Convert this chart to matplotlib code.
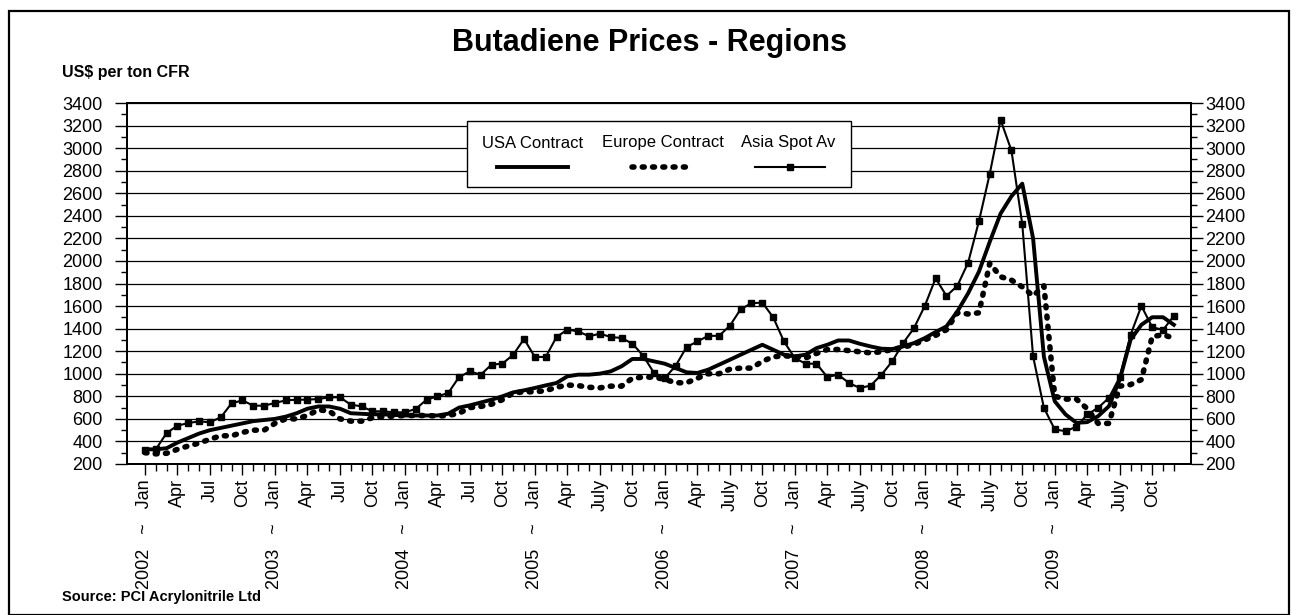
import numpy as np
import matplotlib.pyplot as plt
from matplotlib.lines import Line2D
from matplotlib.patches import Rectangle
from matplotlib.ticker import MultipleLocator

# monthly prices, Jan 2002 .. Dec 2009 (US$/t CFR)
usa = [330, 330, 340, 390, 430, 470, 500, 520, 540, 560, 580, 590,
       600, 620, 650, 690, 710, 710, 690, 650, 645, 640, 640, 635,
       630, 630, 630, 630, 646, 700, 720, 745, 770, 800, 835, 853,
       874, 897, 918, 977, 992, 992, 1001, 1021, 1066, 1131, 1131, 1110,
       1089, 1051, 1013, 1007, 1036, 1080, 1124, 1169, 1213, 1257, 1213, 1169,
       1154, 1169, 1227, 1257, 1295, 1295, 1266, 1242, 1222, 1219, 1242, 1272,
       1316, 1370, 1420, 1551, 1713, 1905, 2170, 2420, 2573, 2685, 2200, 1150,
       756, 639, 565, 571, 624, 712, 948, 1301, 1434, 1501, 1501, 1434]
europe = [300, 290, 295, 330, 360, 385, 420, 450, 450, 480, 500, 500,
          560, 600, 600, 630, 680, 670, 600, 580, 580, 610, 620, 625,
          630, 630, 630, 625, 630, 650, 700, 710, 730, 770, 830, 840,
          840, 850, 880, 900, 895, 880, 875, 890, 890, 960, 970, 970,
          950, 920, 920, 960, 1000, 1000, 1040, 1050, 1050, 1110, 1150, 1160,
          1150, 1140, 1180, 1215, 1215, 1205, 1195, 1185, 1195, 1215, 1235, 1260,
          1300, 1340, 1390, 1540, 1530, 1540, 1980, 1860, 1830, 1770, 1690, 1780,
          800, 775, 775, 690, 560, 560, 890, 904, 948, 1330, 1345, 1316]
asia = [320, 330, 475, 540, 563, 578, 570, 614, 738, 764, 717, 717,
        741, 764, 770, 770, 776, 791, 791, 726, 711, 667, 667, 658,
        658, 688, 770, 800, 829, 971, 1021, 992, 1081, 1089, 1169, 1308,
        1149, 1149, 1326, 1391, 1376, 1332, 1355, 1326, 1317, 1267, 1160, 1007,
        962, 1071, 1236, 1286, 1336, 1336, 1425, 1572, 1625, 1631, 1501, 1286,
        1139, 1089, 1089, 971, 992, 918, 874, 895, 992, 1110, 1272, 1404,
        1601, 1846, 1690, 1778, 1984, 2352, 2773, 3250, 2979, 2326, 1154, 698,
        506, 491, 530, 639, 698, 786, 971, 1345, 1601, 1413, 1389, 1513]

tick_labels = ['2002   ~   Jan', 'Apr', 'Jul', 'Oct',
               '2003   ~   Jan', 'Apr', 'Jul', 'Oct',
               '2004   ~   Jan', 'Apr', 'Jul', 'Oct',
               '2005   ~   Jan', 'Apr', 'July', 'Oct',
               '2006   ~   Jan', 'Apr', 'July', 'Oct',
               '2007   ~   Jan', 'Apr', 'July', 'Oct',
               '2008   ~   Jan', 'Apr', 'July', 'Oct',
               '2009   ~   Jan', 'Apr', 'July', 'Oct']

W, H = 1297, 615
plt.rcParams['font.family'] = ['Liberation Sans', 'DejaVu Sans']
narrow = ['Liberation Sans Narrow', 'Liberation Sans', 'DejaVu Sans']
fs = 13
dots = (0, (0.35, 1.5))

fig = plt.figure(figsize=(W / 100, H / 100), dpi=100)
ax = fig.add_axes([127 / W, 1 - 464 / H, (1191 - 127) / W, (464 - 103) / H])

x = np.arange(len(usa))
ax.plot(x, usa, color='black', lw=2.8, solid_joinstyle='round', zorder=3)
ax.plot(x, europe, color='black', lw=4.0, linestyle=dots,
        dash_capstyle='round', zorder=3)
ax.plot(x, asia, color='black', lw=1.5, marker='s', markersize=4.5, zorder=4)

ax.set_xlim(-1.66, 96.58)
ax.set_ylim(200, 3400)
ax.set_xticks(np.arange(0, 96, 3))
ax.set_xticklabels(tick_labels, rotation=90, fontsize=fs)
ax.set_xticks(np.arange(0, 96, 1), minor=True)
ax.tick_params(axis='x', which='major', length=8, width=1, pad=3)
ax.tick_params(axis='x', which='minor', length=5, width=1)

# right-hand copy of the value axis
ax2 = ax.twinx()
ax2.set_ylim(200, 3400)
for a, pad in ((ax, 9), (ax2, 2)):
    a.yaxis.set_major_locator(MultipleLocator(200))
    a.yaxis.set_minor_locator(MultipleLocator(100))
    a.tick_params(axis='y', which='both', labelsize=fs, direction='out',
                  width=1)
    a.tick_params(axis='y', which='major', length=8.5, pad=pad)
    a.tick_params(axis='y', which='minor', length=4.5)
    for s in a.spines.values():
        s.set_linewidth(1.4)

ax.grid(axis='y', which='major', color='black', lw=0.9)
ax.set_axisbelow(True)

# legend box: label above each line sample
fig.patches.append(Rectangle((467 / W, 1 - 187 / H), 384 / W, 66 / H,
                             transform=fig.transFigure, fill=True,
                             facecolor='white', edgecolor='black', lw=1.0,
                             zorder=5))
entries = [('USA Contract', 533, 497, 568),
           ('Europe Contract', 663, 632, 692),
           ('Asia Spot Av', 788, 755, 825)]
for i, (name, cx, x0, x1) in enumerate(entries):
    fig.text(cx / W, 1 - 143 / H, name, ha='center', va='center',
             fontsize=12, zorder=6)
    yy = 1 - 167 / H
    if i == 0:
        ln = Line2D([x0 / W, x1 / W], [yy, yy], color='black', lw=2.8)
    elif i == 1:
        ln = Line2D([x0 / W, x1 / W], [yy, yy], color='black', lw=4.0,
                    linestyle=dots, dash_capstyle='round')
    else:
        ln = Line2D([x0 / W, (x0 + x1) / 2 / W, x1 / W], [yy, yy, yy],
                    color='black', lw=1.5, marker='s', markersize=4.5,
                    markevery=[1])
    ln.set_transform(fig.transFigure)
    ln.set_zorder(6)
    fig.lines.append(ln)

fig.text(650 / W, 1 - 43 / H, 'Butadiene Prices - Regions', ha='center',
         va='center', fontsize=22, fontweight='bold', family=narrow)
fig.text(62 / W, 1 - 73 / H, 'US$ per ton CFR', ha='left', va='center',
         fontsize=11.5, fontweight='bold', family=narrow)
fig.text(62 / W, 1 - 597 / H, 'Source: PCI Acrylonitrile Ltd', ha='left',
         va='center', fontsize=10.5, fontweight='bold', family=narrow)

# outer frame
fig.patches.append(Rectangle((9 / W, 0 / H), 1280 / W, (H - 11) / H,
                             transform=fig.transFigure, fill=False,
                             edgecolor='black', lw=1.6))

fig.savefig('out.png', dpi=100)
